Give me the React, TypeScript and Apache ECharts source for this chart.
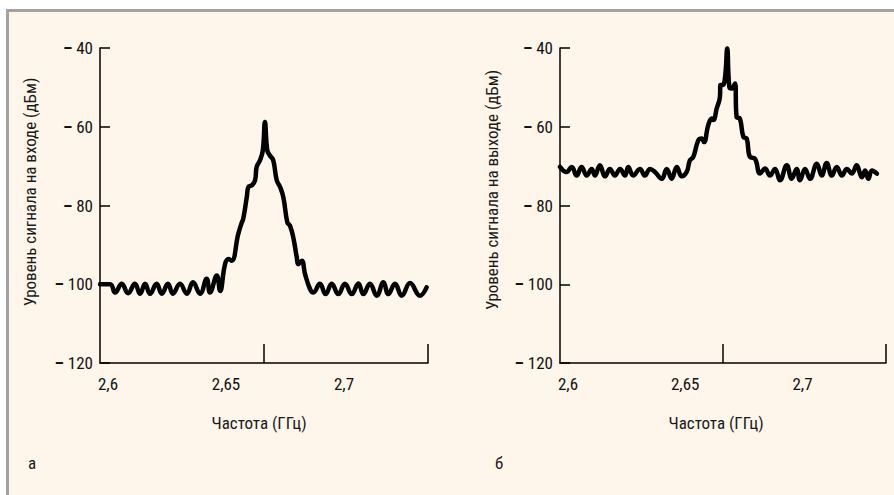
import React, { useEffect, useRef } from 'react';
import * as echarts from 'echarts';

// Panel "а": input signal level (dBm) vs frequency (GHz)
const freqA = [2.5966, 2.6009, 2.6030, 2.6058, 2.6085, 2.6114, 2.6136, 2.6157, 2.6178, 2.6206, 2.6228, 2.6254, 2.6275, 2.6305, 2.6334, 2.6360, 2.6390, 2.6418, 2.6432, 2.6461, 2.6475, 2.6496, 2.6510, 2.6524, 2.6552, 2.6567, 2.6573, 2.6588, 2.6595, 2.6609, 2.6623, 2.6630, 2.6644, 2.6656, 2.6665, 2.6675, 2.6686, 2.6700, 2.6715, 2.6729, 2.6743, 2.6760, 2.6771, 2.6785, 2.6800, 2.6806, 2.6821, 2.6835, 2.6856, 2.6870, 2.6898, 2.6922, 2.6948, 2.6976, 2.7004, 2.7033, 2.7061, 2.7082, 2.7110, 2.7139, 2.7167, 2.7188, 2.7216, 2.7245, 2.7280, 2.7322, 2.7350];
const levelA = [-100, -100, -102.1, -99.9, -102.3, -99.9, -102.4, -99.9, -102.4, -99.9, -102.4, -99.9, -102.4, -99.9, -102.4, -99.5, -102.4, -98.6, -102.1, -97.8, -101.7, -94.9, -93.6, -94.0, -87.2, -84.3, -83.4, -77.9, -75.3, -74.9, -73.6, -70.2, -68.5, -66.0, -58.8, -66.0, -67.3, -68.5, -73.6, -75.3, -77.9, -84.3, -85.1, -88.1, -93.2, -94.9, -94.0, -97.4, -101.2, -102.1, -99.9, -102.5, -99.9, -102.5, -99.9, -102.5, -99.8, -102.5, -99.9, -102.9, -99.5, -102.5, -99.9, -102.9, -99.7, -102.9, -100.8];

// Panel "б": output signal level (dBm) vs frequency (GHz)
const freqB = [2.5966, 2.5994, 2.6016, 2.6037, 2.6058, 2.6080, 2.6101, 2.6115, 2.6136, 2.6158, 2.6179, 2.6200, 2.6222, 2.6243, 2.6257, 2.6278, 2.6307, 2.6328, 2.6350, 2.6371, 2.6400, 2.6421, 2.6442, 2.6464, 2.6485, 2.6506, 2.6520, 2.6534, 2.6556, 2.6570, 2.6580, 2.6598, 2.6613, 2.6620, 2.6634, 2.6648, 2.6650, 2.6660, 2.6670, 2.6679, 2.6688, 2.6698, 2.6712, 2.6719, 2.6733, 2.6748, 2.6762, 2.6776, 2.6797, 2.6819, 2.6840, 2.6861, 2.6883, 2.6904, 2.6933, 2.6954, 2.6975, 2.6989, 2.7011, 2.7032, 2.7061, 2.7082, 2.7103, 2.7125, 2.7146, 2.7168, 2.7189, 2.7210, 2.7231, 2.7253, 2.7267, 2.7281, 2.7296, 2.7317];
const levelB = [-70.2, -71.5, -70.2, -72.4, -70.2, -72.4, -70.7, -72.4, -69.8, -72.6, -70.7, -72.4, -70.7, -72.4, -70.2, -72.4, -70.7, -72.4, -70.7, -71.5, -73.2, -70.7, -73.2, -70.2, -72.6, -71.5, -68.5, -67.7, -63.4, -63.0, -63.9, -59.6, -57.9, -58.3, -55.4, -52.4, -49.4, -49.4, -47.3, -40.1, -49.9, -50.3, -49.0, -57.5, -57.9, -62.6, -63.0, -67.7, -68.1, -71.9, -70.6, -72.4, -70.7, -73.6, -69.8, -73.2, -70.7, -73.6, -70.7, -73.2, -69.4, -72.4, -69.2, -72.4, -70.2, -72.4, -70.7, -71.9, -69.8, -72.8, -71.1, -73.2, -71.1, -71.9];

const xMin = 2.5966;
const xMax = 2.7356;
const xLabelValues = [2.6, 2.65, 2.7];
const xTickValues = [2.6658, 2.7356];
const yMin = -120;
const yMax = -40;
const yStep = 20;

const yTitleA = 'Уровень сигнала на входе (дБм)';
const yTitleB = 'Уровень сигнала на выходе (дБм)';
const xTitle = 'Частота (ГГц)';
const letterA = 'а';
const letterB = 'б';

const FONT = "'Liberation Sans Narrow', 'Roboto Condensed', 'DejaVu Sans Condensed', sans-serif";

export default function App() {
  const ref = useRef<HTMLDivElement>(null);
  useEffect(() => {
    if (!ref.current) return;
    const chart = echarts.init(ref.current, undefined, { renderer: 'svg' });

    const mkX = (i: number) => ({
      type: 'value',
      gridIndex: i,
      min: xMin,
      max: xMax,
      axisLine: { show: true, lineStyle: { color: '#000', width: 1.5 } },
      axisTick: { show: true, inside: true, length: 19, customValues: xTickValues, lineStyle: { color: '#000', width: 1.5 } },
      axisLabel: {
        customValues: xLabelValues,
        formatter: (v: number) => String(v).replace('.', ','),
        margin: 12,
        color: '#111',
        fontSize: 17,
        fontFamily: FONT,
      },
      splitLine: { show: false },
    });
    const mkY = (i: number) => ({
      type: 'value',
      gridIndex: i,
      min: yMin,
      max: yMax,
      interval: yStep,
      axisLine: { show: true, lineStyle: { color: '#000', width: 1.5 } },
      axisTick: { show: true, inside: true, length: 10, lineStyle: { color: '#000', width: 1.5 } },
      axisLabel: {
        margin: 7,
        color: '#111',
        fontSize: 17,
        fontFamily: FONT,
        formatter: (v: number) => `{d|–} ${Math.abs(v)}`,
        rich: { d: { fontWeight: 'bold', fontSize: 17, fontFamily: FONT, color: '#111' } },
      },
      splitLine: { show: false },
    });
    const mkSeries = (i: number, xs: number[], ys: number[]) => ({
      type: 'line',
      xAxisIndex: i,
      yAxisIndex: i,
      data: xs.map((x, k) => [x, ys[k]]),
      showSymbol: false,
      smooth: 0.45,
      lineStyle: { color: '#000', width: 4.5, join: 'round', cap: 'round' },
    });
    const txt = (text: string, x: number, y: number, rot = 0) => ({
      type: 'text',
      x,
      y,
      rotation: rot,
      style: { text, fill: '#1a1a1a', font: `17px ${FONT}`, align: 'center', verticalAlign: 'middle' },
    });

    chart.setOption({
      animation: false,
      backgroundColor: 'transparent',
      grid: [
        { left: 100, top: 48, width: 328, height: 315 },
        { left: 560, top: 48, width: 326, height: 315 },
      ],
      xAxis: [mkX(0), mkX(1)],
      yAxis: [mkY(0), mkY(1)],
      series: [mkSeries(0, freqA, levelA), mkSeries(1, freqB, levelB)],
      graphic: [
        txt(yTitleA, 30, 192, Math.PI / 2),
        txt(yTitleB, 492, 190, Math.PI / 2),
        txt(xTitle, 259, 423),
        txt(xTitle, 716, 423),
        txt(letterA, 32, 463),
        txt(letterB, 499, 463),
      ],
    });
    return () => chart.dispose();
  }, []);

  return (
    <div style={{ position: 'fixed', left: 0, top: 0, width: 894, height: 495, background: '#fff', overflow: 'hidden' }}>
      <div
        style={{
          position: 'absolute',
          left: 6,
          top: 9,
          right: 0,
          bottom: 0,
          background: '#fef6ea',
          borderTop: '3px solid #a2a2a2',
          borderLeft: '3px solid #a2a2a2',
        }}
      />
      <div ref={ref} style={{ position: 'absolute', left: 0, top: 0, width: 894, height: 495 }} />
    </div>
  );
}
